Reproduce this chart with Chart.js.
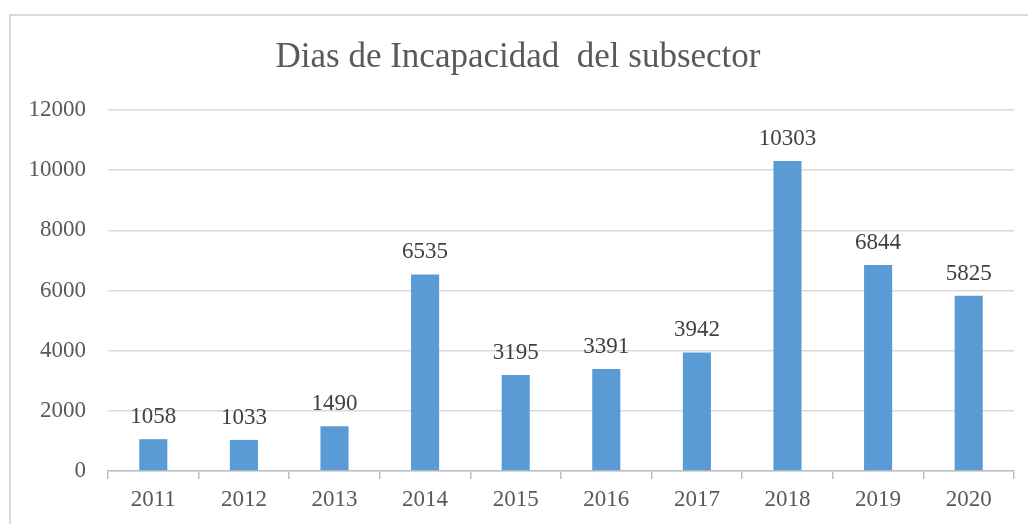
<!DOCTYPE html>
<html>
<head>
<meta charset="utf-8">
<script src="https://cdn.jsdelivr.net/npm/chart.js@4/dist/chart.umd.min.js"></script>
<style>
html,body{margin:0;padding:0;background:#fff;}
#wrap{width:1028px;height:524px;position:relative;}
</style>
</head>
<body>
<div id="wrap"><canvas id="c" width="1028" height="524"></canvas></div>
<script>
const years = ['2011','2012','2013','2014','2015','2016','2017','2018','2019','2020'];
const dias = [1058, 1033, 1490, 6535, 3195, 3391, 3942, 10303, 6844, 5825];
const yTicks = [0, 2000, 4000, 6000, 8000, 10000, 12000];
const titleText = 'Dias de Incapacidad  del subsector';

const SERIF = '"Liberation Serif", "Times New Roman", serif';

const frame = {
  id: 'frame',
  beforeDraw(chart) {
    const ctx = chart.ctx;
    ctx.save();
    ctx.fillStyle = '#fff';
    ctx.fillRect(0, 0, chart.width, chart.height);
    ctx.strokeStyle = '#d9d9d9';
    ctx.lineWidth = 2;
    ctx.beginPath();
    ctx.moveTo(10, chart.height + 5);
    ctx.lineTo(10, 15);
    ctx.lineTo(chart.width + 5, 15);
    ctx.stroke();
    ctx.restore();
  }
};

const chartTitle = {
  id: 'chartTitle',
  afterDraw(chart) {
    const ctx = chart.ctx;
    ctx.save();
    ctx.font = '35px ' + SERIF;
    ctx.fillStyle = '#595959';
    ctx.textAlign = 'center';
    ctx.textBaseline = 'alphabetic';
    ctx.fillText(titleText, 518, 67);
    ctx.restore();
  }
};

const valueLabels = {
  id: 'valueLabels',
  afterDatasetsDraw(chart) {
    const ctx = chart.ctx;
    const meta = chart.getDatasetMeta(0);
    ctx.save();
    ctx.font = '23px ' + SERIF;
    ctx.fillStyle = '#404040';
    ctx.textAlign = 'center';
    ctx.textBaseline = 'alphabetic';
    meta.data.forEach((bar, i) => {
      ctx.fillText(String(chart.data.datasets[0].data[i]), bar.x, bar.y - 16);
    });
    ctx.restore();
  }
};

new Chart(document.getElementById('c'), {
  type: 'bar',
  data: {
    labels: years,
    datasets: [{
      data: dias,
      backgroundColor: '#5B9BD5',
      borderWidth: 0,
      barPercentage: 0.31,
      categoryPercentage: 1
    }]
  },
  options: {
    responsive: false,
    animation: false,
    devicePixelRatio: 1,
    layout: { padding: { left: 0, right: 14, top: 110, bottom: 0 } },
    plugins: {
      legend: { display: false },
      tooltip: { enabled: false },
      title: { display: false }
    },
    scales: {
      x: {
        offset: true,
        grid: {
          offset: true,
          drawOnChartArea: false,
          drawTicks: true,
          tickLength: 8,
          color: '#bfbfbf',
          lineWidth: 1.5
        },
        border: { display: true, color: '#bfbfbf', width: 1.5 },
        ticks: {
          color: '#595959',
          font: { family: SERIF, size: 23, lineHeight: 1.2 },
          padding: 7,
          maxRotation: 0
        },
        afterFit(scale) { scale.height = 53; }
      },
      y: {
        min: 0,
        max: 12000,
        afterBuildTicks(scale) { scale.ticks = yTicks.map(v => ({ value: v })); },
        grid: {
          drawTicks: false,
          tickLength: 0,
          color: '#d9d9d9',
          lineWidth: 1.5
        },
        border: { display: false },
        ticks: {
          color: '#595959',
          font: { family: SERIF, size: 23, lineHeight: 1.2 },
          padding: 22,
          callback: (v) => String(v)
        },
        afterFit(scale) { scale.width = 108; }
      }
    }
  },
  plugins: [frame, valueLabels, chartTitle]
});
</script>
</body>
</html>
